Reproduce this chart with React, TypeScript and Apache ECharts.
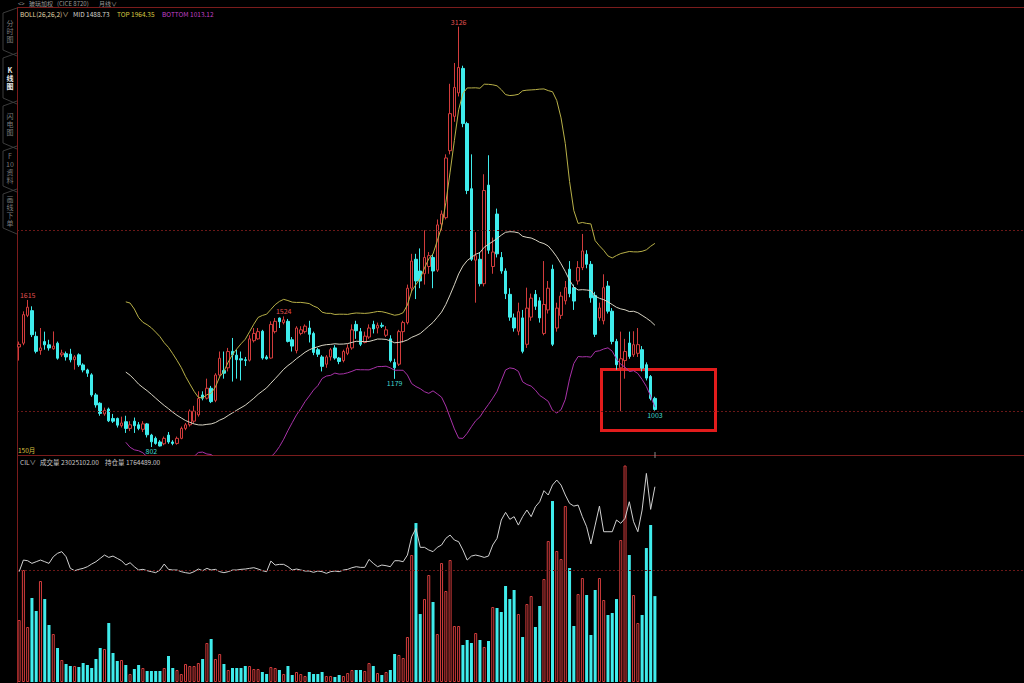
import React, { useEffect, useRef } from "react";
import * as echarts from "echarts";

const SLOT_COUNT = 236;
const categories = Array.from({ length: SLOT_COUNT }, (_, i) => String(i));

const opens = [1355,1376,1530,1556,1414,1335,1385,1367,1345,1376,1312,1318,1316,1285,1312,1256,1228,1201,1090,1044,
985,1012,960,960,920,942,905,945,925,900,930,868,850,830,820,868,830,822,850,905,
925,945,980,1090,1072,1127,1060,1200,1225,1240,1331,1310,1290,1285,1282,1390,1400,1442,1300,1294,
1440,1515,1490,1497,1395,1335,1430,1440,1460,1430,1340,1300,1260,1300,1350,1294,1280,1320,1350,1480,
1440,1380,1410,1480,1460,1475,1420,1400,1270,1260,1440,1490,1680,1840,1775,1760,1800,1850,1780,2035,
2070,2440,2630,2760,2895,2590,2230,1835,1840,1705,2250,1800,2090,1850,1775,1646,1516,1442,1516,1370,
1520,1646,1610,1430,1560,1785,1460,1530,1610,1785,1683,1720,1794,1868,1812,1640,1516,1500,1692,1553,
1386,1240,1280,1377,1312,1320,1340,1257,1192,1071];
const closes = [1370,1534,1575,1423,1331,1350,1367,1350,1360,1293,1322,1300,1284,1300,1256,1228,1210,1090,1035,988,
1005,947,945,923,935,905,925,920,905,930,870,831,822,808,850,830,822,850,905,925,
1000,1000,1070,1072,1127,1053,1200,1293,1210,1330,1312,1285,1283,1280,1400,1430,1440,1294,1290,1480,
1497,1495,1505,1386,1360,1460,1450,1470,1425,1325,1315,1248,1300,1340,1294,1275,1330,1350,1450,1445,
1370,1415,1460,1455,1475,1470,1450,1280,1240,1440,1490,1680,1830,1720,1720,1850,1860,1775,2030,2090,
2400,2645,2790,2900,2590,2220,1840,1860,1705,2220,1890,1880,1870,1775,1650,1520,1460,1550,1331,1570,
1625,1580,1516,1590,1680,1370,1570,1636,1683,1650,1609,1794,1886,1812,1627,1425,1571,1683,1553,1386,
1257,1290,1330,1303,1368,1368,1238,1183,1071,1010];
const lows = [1280,1365,1520,1410,1320,1312,1340,1335,1340,1285,1300,1280,1270,1230,1245,1215,1190,1080,1020,975,
975,940,935,910,910,880,890,880,895,885,855,802,815,805,812,820,812,815,845,895,
915,935,970,1060,1065,1045,1050,1190,1180,1220,1164,1180,1170,1250,1275,1380,1395,1285,1285,1290,
1430,1460,1480,1380,1330,1320,1420,1430,1380,1310,1300,1220,1240,1280,1285,1260,1270,1310,1340,1400,
1360,1375,1400,1430,1430,1460,1410,1270,1179,1250,1380,1480,1660,1620,1680,1700,1760,1680,1770,2000,
2060,2420,2600,2740,2570,2200,1830,1600,1690,1690,1870,1760,1850,1760,1620,1500,1440,1420,1320,1350,
1500,1560,1490,1420,1540,1360,1440,1510,1590,1630,1560,1700,1780,1790,1600,1410,1500,1480,1540,1370,
1230,1000,1180,1290,1300,1300,1220,1170,1060,1003];
const highs = [1385,1552,1615,1580,1440,1460,1440,1395,1441,1385,1340,1330,1345,1310,1320,1265,1235,1210,1100,1050,
1020,1020,985,965,970,975,945,965,940,945,935,875,860,840,860,885,840,860,915,935,
1010,1030,1110,1110,1180,1140,1210,1330,1330,1350,1405,1340,1330,1300,1420,1460,1460,1450,1310,1497,
1515,1518,1524,1510,1410,1470,1470,1480,1500,1440,1350,1310,1310,1350,1365,1300,1340,1370,1480,1500,
1460,1440,1480,1500,1490,1490,1470,1420,1290,1450,1500,1700,1870,1870,1900,2000,1880,1870,2060,2110,
2420,2810,2925,3126,2910,2600,2420,1990,1880,2310,2415,1960,2120,1880,1790,1680,1540,1600,1560,1683,
1650,1670,1630,1830,1720,1810,1600,1660,1720,1830,1700,1830,1980,1890,1830,1660,1600,1757,1720,1570,
1400,1440,1400,1440,1442,1460,1360,1270,1200,1080];

// 成交量 (万手)
const volumes = [1662,3002,1474,2251,1903,2707,2224,1528,1286,911,590,482,429,429,402,509,456,375,616,911,
884,1581,777,563,590,456,214,348,456,375,295,295,295,295,375,697,375,322,214,482,
429,429,509,616,1045,1152,616,750,482,322,375,375,375,429,429,348,348,268,214,402,
375,322,214,429,188,268,214,161,268,214,214,268,161,161,134,188,161,241,322,322,
322,295,509,429,241,188,268,322,750,724,643,1206,3404,4261,1822,2224,2868,2144,1286,3189,
2439,3270,1501,1501,992,1126,1045,1313,1126,938,1099,2010,1983,1876,2573,2224,2466,1822,1206,2090,
2305,1474,2037,2760,3779,4851,3511,3296,4717,3055,1501,2358,2787,2332,1260,2466,2787,2198,1796,1849,
2224,3806,5900,3404,2332,1581,1796,3591,4208,2302.51];

// 持仓量 (万手)
const openInterest = [99.7,110.2,109.6,107.2,108.7,110.2,108.7,107.2,113.2,116.3,117.8,113.2,102.7,100.6,101.8,102.7,104.2,106.6,108.7,111.7,
114.7,112.6,113.8,111.7,109.6,105.7,107.8,104.2,101.2,101.8,100.6,99.7,98.8,101.2,106.6,101.8,101.2,101.2,99.7,98.8,
98.2,99.7,102.1,100.6,102.7,101.2,101.8,99.7,98.8,99.7,101.2,101.2,101.8,102.1,102.7,103.3,102.1,100.6,99.7,109.3,
105.7,106.3,106.3,104.2,101.2,102.1,101.2,100.3,100.3,99.1,100.3,99.7,98.2,99.7,100.3,99.7,101.2,101.8,103.3,104.2,
103.6,103.6,110.8,107.2,104.2,105.7,105.1,104.2,109.6,109.6,108.7,114.7,131.3,138.8,121.7,121.7,119.3,117.8,121.7,123.8,
129.8,132.8,128.3,126.8,119.3,110.2,113.8,114.7,113.8,112.6,113.8,123.8,129.8,146.4,153.3,147.0,149.4,141.8,149.4,155.4,
149.4,158.4,162.9,172.9,169.0,178.0,182.5,178.0,169.0,161.4,159.0,159.9,149.4,140.3,124.7,141.8,159.0,135.8,135.8,135.8,
146.4,143.4,147.9,162.9,144.9,135.8,155.4,188.5,156.0,176.45];

const priceGridLevels = [1000, 2000];
const volumeGridLevels = [3000];
const highMarks = [{ i: 2, v: 1615 }, { i: 62, v: 1524 }, { i: 103, v: 3126 }];
const lowMarks = [{ i: 31, v: 802 }, { i: 88, v: 1179 }, { i: 149, v: 1003 }];

const bollPeriod = 26;
const bollWidth = 2;

const headerParts = [
  { text: "<>", x: 18 },
  { text: "玻璃加权", x: 29 },
  { text: "(CICE 8720)", x: 57 },
  { text: "月线∨", x: 99 },
];
const bollLegend = [
  { text: "BOLL(26,26,2)∨", x: 20, color: "#e0d8a8" },
  { text: "MID 1488.73", x: 73, color: "#d8d8d0" },
  { text: "TOP 1964.35", x: 117, color: "#d8c840" },
  { text: "BOTTOM 1013.12", x: 162, color: "#c040c8" },
];
const volLegend = [
  { text: "CIL∨", x: 20 },
  { text: "成交量 23025102.00", x: 40 },
  { text: "持仓量 1764489.00", x: 105 },
];
const countLabel = "150月";
const tabs = [
  { text: "分\n时\n图", y0: 8, y1: 50, active: false },
  { text: "K\n线\n图", y0: 53, y1: 98, active: true },
  { text: "闪\n电\n图", y0: 101, y1: 143, active: false },
  { text: "F\n10\n资\n料", y0: 146, y1: 186, active: false },
  { text: "画\n线\n下\n单", y0: 189, y1: 228, active: false },
];

const RED = "#d23c3c";
const CYAN = "#3fecec";
const BORDER = "#7a1c1c";
const FONT = "'Noto Sans CJK SC', 'Noto Sans', sans-serif";

function computeBoll(src: number[], n: number, k: number) {
  const mid: (number | string)[] = [];
  const top: (number | string)[] = [];
  const bot: (number | string)[] = [];
  for (let i = 0; i < src.length; i++) {
    if (i < n - 1) {
      mid.push("-"); top.push("-"); bot.push("-");
      continue;
    }
    let s = 0;
    for (let j = i - n + 1; j <= i; j++) s += src[j];
    const m = s / n;
    let v = 0;
    for (let j = i - n + 1; j <= i; j++) v += (src[j] - m) * (src[j] - m);
    const sd = Math.sqrt(v / n);
    mid.push(+m.toFixed(2));
    top.push(+(m + k * sd).toFixed(2));
    bot.push(+(m - k * sd).toFixed(2));
  }
  return { mid, top, bot };
}

export default function App() {
  const ref = useRef<HTMLDivElement>(null);
  useEffect(() => {
    if (!ref.current) return;
    const chart = echarts.init(ref.current, undefined, { renderer: "svg" });
    const candleData = closes.map((c, i) => [opens[i], c, lows[i], highs[i]]);
    const boll = computeBoll(closes, bollPeriod, bollWidth);
    const volData = volumes.map((v, i) => {
      const up = closes[i] >= opens[i];
      return {
        value: v,
        itemStyle: up
          ? { color: "#000", borderColor: RED, borderWidth: 1 }
          : { color: CYAN, borderWidth: 0 },
      };
    });

    const textEl = (text: string, x: number, y: number, fill: string, size = 6.5, extra: any = {}) => ({
      type: "text",
      x,
      y,
      silent: true,
      style: { text, fill, fontSize: size, fontFamily: FONT, textAlign: "left", textVerticalAlign: "middle", ...extra },
    });

    const graphics: any[] = [
      { type: "line", shape: { x1: 18, y1: 7.5, x2: 1024, y2: 7.5 }, style: { stroke: BORDER, lineWidth: 1 }, silent: true },
      { type: "line", shape: { x1: 17.5, y1: 7, x2: 17.5, y2: 683 }, style: { stroke: BORDER, lineWidth: 1 }, silent: true },
      { type: "line", shape: { x1: 18, y1: 455.5, x2: 1024, y2: 455.5 }, style: { stroke: BORDER, lineWidth: 1 }, silent: true },
      ...headerParts.map((p) => textEl(p.text, p.x, 3.2, "#9a9a9a", 6)),
      ...bollLegend.map((p) => textEl(p.text, p.x, 14, p.color, 6.5)),
      textEl(countLabel, 18, 449.5, "#d8c040", 6.5),
      ...volLegend.map((p) => textEl(p.text, p.x, 461.5, "#c8c8c8", 6.5)),
      {
        type: "rect",
        shape: { x: 601.5, y: 369.5, width: 114, height: 61 },
        style: { fill: "none", stroke: "#e21c1c", lineWidth: 3 },
        silent: true,
      },
      { type: "line", shape: { x1: 655, y1: 452, x2: 655, y2: 458 }, style: { stroke: "#888", lineWidth: 1 }, silent: true },
    ];
    tabs.forEach((t) => {
      graphics.push({
        type: "polyline",
        shape: { points: [[17, t.y0], [3, t.y0 + 5], [3, t.y1], [17, t.y1 + 6]] },
        style: { stroke: "#3c3c3c", lineWidth: 1, fill: "none" },
        silent: true,
      });
      graphics.push({
        type: "text",
        x: 10,
        y: (t.y0 + t.y1) / 2 + 2,
        silent: true,
        style: {
          text: t.text,
          fill: t.active ? "#e8e8e8" : "#7a7a7a",
          fontSize: 7,
          lineHeight: 8,
          fontFamily: FONT,
          fontWeight: t.active ? "bold" : "normal",
          textAlign: "center",
          textVerticalAlign: "middle",
        },
      });
    });

    chart.setOption({
      animation: false,
      backgroundColor: "#000",
      grid: [
        { left: 17, right: 0, top: 8, height: 447 },
        { left: 17, right: 0, top: 466, height: 216 },
      ],
      xAxis: [
        { type: "category", data: categories, gridIndex: 0, show: false, boundaryGap: true },
        { type: "category", data: categories, gridIndex: 1, show: false, boundaryGap: true },
      ],
      yAxis: [
        { type: "value", gridIndex: 0, min: 758, max: 3229, show: false, splitLine: { show: false } },
        { type: "value", gridIndex: 1, min: 0, max: 5790, show: false, splitLine: { show: false } },
        { type: "value", gridIndex: 1, min: 0, max: 195.2, show: false, splitLine: { show: false } },
      ],
      series: [
        {
          type: "candlestick",
          xAxisIndex: 0,
          yAxisIndex: 0,
          data: candleData,
          barWidth: 3,
          clip: true,
          itemStyle: {
            color: "#000",
            color0: CYAN,
            borderColor: RED,
            borderColor0: CYAN,
            borderWidth: 1,
          },
          markLine: {
            silent: true,
            symbol: "none",
            label: { show: false },
            lineStyle: { color: "#6a1818", type: [2, 2], width: 1 },
            data: priceGridLevels.map((v) => ({ yAxis: v })),
          },
          markPoint: {
            symbol: "circle",
            symbolSize: 1,
            itemStyle: { color: "rgba(0,0,0,0)" },
            data: [
              ...highMarks.map((m) => ({
                coord: [String(m.i), m.v],
                value: m.v,
                label: { show: true, position: "top", distance: 1, color: "#e05050", fontSize: 7, fontFamily: FONT, formatter: String(m.v) },
              })),
              ...lowMarks.map((m) => ({
                coord: [String(m.i), m.v],
                value: m.v,
                label: { show: true, position: "bottom", distance: 0, color: "#40d8d0", fontSize: 7, fontFamily: FONT, formatter: String(m.v) },
              })),
            ],
          },
        },
        {
          type: "line",
          name: "MID",
          xAxisIndex: 0,
          yAxisIndex: 0,
          data: boll.mid,
          showSymbol: false,
          lineStyle: { color: "#d8d4c4", width: 1 },
        },
        {
          type: "line",
          name: "TOP",
          xAxisIndex: 0,
          yAxisIndex: 0,
          data: boll.top,
          showSymbol: false,
          lineStyle: { color: "#b8b048", width: 1 },
        },
        {
          type: "line",
          name: "BOTTOM",
          xAxisIndex: 0,
          yAxisIndex: 0,
          data: boll.bot,
          showSymbol: false,
          lineStyle: { color: "#a832a8", width: 1 },
        },
        {
          type: "bar",
          xAxisIndex: 1,
          yAxisIndex: 1,
          data: volData,
          barWidth: 3,
          clip: true,
          markLine: {
            silent: true,
            symbol: "none",
            label: { show: false },
            lineStyle: { color: "#6a1818", type: [2, 2], width: 1 },
            data: volumeGridLevels.map((v) => ({ yAxis: v })),
          },
        },
        {
          type: "line",
          xAxisIndex: 1,
          yAxisIndex: 2,
          data: openInterest,
          showSymbol: false,
          lineStyle: { color: "#d0d0d0", width: 1 },
        },
      ],
      graphic: graphics,
    });
    return () => chart.dispose();
  }, []);
  return (
    <div
      ref={ref}
      style={{ position: "fixed", left: 0, top: 0, width: 1024, height: 683, background: "#000" }}
    />
  );
}
